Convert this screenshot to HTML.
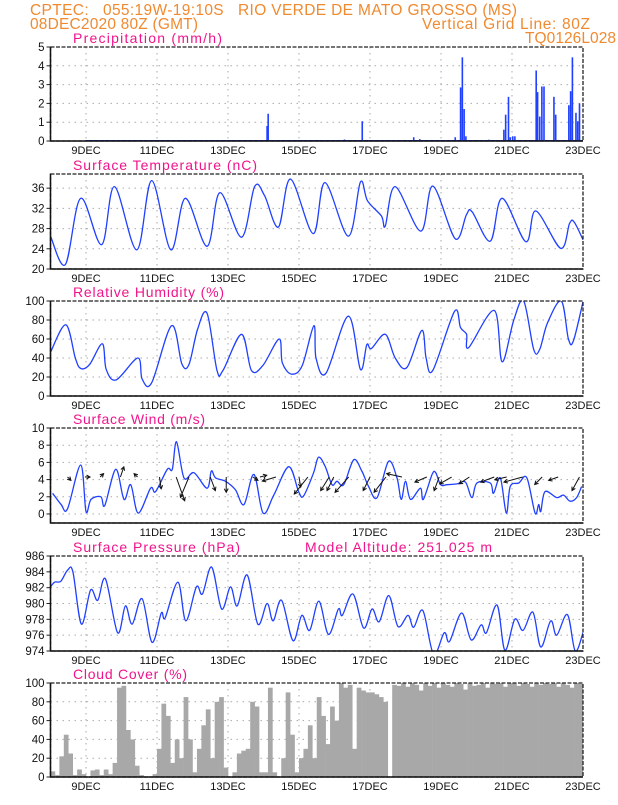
<!DOCTYPE html>
<html><head><meta charset="utf-8"><style>
html,body{margin:0;padding:0;background:#fff;}
svg text{font-family:"Liberation Sans",sans-serif;}
</style></head><body>
<svg id="chart" width="618" height="800" viewBox="0 0 618 800" xmlns="http://www.w3.org/2000/svg">
<text x="30" y="15" font-size="15.5" fill="#f08a30" textLength="487" lengthAdjust="spacing" xml:space="preserve">CPTEC:   055:19W-19:10S   RIO VERDE DE MATO GROSSO (MS)</text>
<text x="30" y="29" font-size="15.5" fill="#f08a30" textLength="168" lengthAdjust="spacing">08DEC2020 80Z (GMT)</text>
<text x="422" y="29" font-size="15.5" fill="#f08a30" textLength="168" lengthAdjust="spacing">Vertical Grid Line: 80Z</text>
<text x="525" y="43" font-size="15.5" fill="#f08a30" textLength="91" lengthAdjust="spacing">TQ0126L028</text>
<g id="plots"></g>
</svg>
<script>
// ---- data (days since 08DEC 00Z) ----
const dayLabels = ["9DEC","11DEC","13DEC","15DEC","17DEC","19DEC","21DEC","23DEC"];
const dayLabelPos = [1,3,5,7,9,11,13,15];
const precipDays = [6.1,6.13,8.28,8.78,10.23,10.4,11.4,11.55,11.6,11.65,11.7,12.35,12.77,12.82,12.9,12.95,13.02,13.08,13.68,13.72,13.78,13.84,13.9,14.18,14.23,14.6,14.65,14.7,14.8,14.85,14.9];
const precipVals = [0.8,1.45,0.08,1.05,0.2,0.1,0.2,2.85,4.45,1.7,0.25,0.07,0.6,1.4,2.35,0.2,0.25,0.25,3.75,2.6,1.3,2.9,2.9,2.35,1.4,1.9,2.65,4.45,1.5,1.05,2.0];
const tempDays = [0,0.42,0.85,1.44,1.8,2.43,2.85,3.39,3.8,4.41,4.77,5.38,5.75,6.03,6.42,6.76,7.4,7.73,8.39,8.73,8.93,9.32,9.43,9.71,10.43,10.77,11.4,11.72,11.88,12.39,12.72,13.39,13.67,14.37,14.62,14.75,15];
const tempVals = [26.5,20.9,34,24.8,36.3,23.8,37.5,23.8,34,24.5,35.1,26.3,36.3,34.5,28.3,37.8,27,37.1,26.5,37.2,33.5,30.5,28.5,36.3,27.5,36.4,26,30.8,31.3,25.5,34,25.4,31.5,24.1,29,29.3,25.8];
const rhDays = [0,0.43,0.7,0.85,1.1,1.46,1.57,1.85,2.46,2.58,2.85,3.41,3.7,3.9,4.14,4.41,4.69,4.86,5.38,5.66,5.98,6.44,6.53,6.79,7.09,7.42,7.48,7.76,8.39,8.73,8.91,9.04,9.43,9.71,10.04,10.46,10.58,10.77,11.38,11.55,11.72,11.78,12.5,12.72,13.05,13.33,13.61,13.78,14.0,14.39,14.59,14.73,15];
const rhVals = [46,75,40,29,33,55,28,17,40,18,14,74,34,33,70,87,27,27,65,27,32,60,35,23,32,74,40,24,84,28,54,50,65,40,30,69,40,27,89,72,65,51,90,36,80,100,49,49,77,100,60,58,99];
const windDays = [0.06,0.3,0.48,0.85,1.0,1.14,1.42,1.53,1.84,2.07,2.26,2.47,2.82,2.96,3.29,3.43,3.55,3.76,4.04,4.41,4.53,4.65,4.93,5.21,5.45,5.73,5.99,6.29,6.71,6.99,7.13,7.41,7.55,7.74,7.93,8.07,8.26,8.54,8.77,8.96,9.2,9.52,9.76,9.88,10.0,10.14,10.42,10.5,10.75,10.85,10.99,11.17,11.45,11.69,11.87,12.01,12.39,12.48,12.67,12.84,12.95,13.19,13.42,13.65,13.75,13.81,13.93,14.26,14.45,14.63,14.82,14.96];
const windVals = [2.4,1.1,0.6,5.7,0.3,1.7,2.0,1.0,5.2,1.7,3.4,0.1,3.0,2.6,5.2,5.2,8.4,4.2,4.8,3.0,5.0,4.2,3.8,2.8,1.1,4.6,0.1,2.2,5.5,2.6,2.1,4.8,6.6,5.5,3.4,3.8,3.4,6.3,5.0,3.2,1.9,6.1,4.2,1.7,3.8,1.7,3.0,1.7,4.6,4.8,3.4,3.4,3.5,3.7,1.9,3.6,3.6,2.4,4.2,0.1,3.2,3.6,4.2,0.1,1.1,0.3,2.6,1.9,2.2,1.5,1.9,3.2];
const arrowDays = [0.48,0.97,1.4,1.97,2.45,3.07,3.54,3.9,4.5,4.95,5.7,5.9,6.35,7.0,7.25,7.85,7.98,8.4,9.0,9.45,9.9,10.6,10.95,11.3,11.8,12.5,12.85,13.3,13.85,14.3,14.9];
const arrowU = [1,1.5,1,1,-1,0.5,2.5,-2.5,1.5,0,1.5,2,-4,0.5,-4,-2.5,-2,-4,-2,-3.5,-4.5,-3.5,-1.5,-3.5,-3,-4,-3.5,-5.5,-2.2,-2.8,-2.2];
const arrowV = [-1,0,1,3,1,-3.5,-7,-6,-4,-4.5,-1,0.5,-1.2,-3,-5,-4,-4,-4.5,-4,-4.5,1,-1.5,-4,-2,-2,-1.5,-0.8,-1.5,-2.2,-1,-4];
const presDays = [0,0.12,0.29,0.48,0.63,0.87,1.13,1.33,1.55,1.89,2.11,2.3,2.58,2.86,3.12,3.23,3.59,3.81,4.11,4.28,4.54,4.82,5.07,5.26,5.54,5.84,6.1,6.27,6.51,6.83,7.08,7.3,7.56,7.83,8.11,8.22,8.52,8.82,9.06,9.26,9.53,9.79,10.07,10.23,10.49,10.79,11.09,11.24,11.58,11.85,12.13,12.28,12.58,12.8,13.08,13.31,13.59,13.81,14.09,14.26,14.56,14.78,15];
const presVals = [982.1,982.7,982.8,984.2,984,977.4,981.7,980.4,983.1,976.3,979.7,977.4,980.6,975.1,978.8,978.2,982.7,977.8,982.1,981.2,984.6,979.3,982.1,979.7,983.6,977.4,980,977.8,980.4,975.3,978.5,976.6,980.3,976.1,979.3,978.5,981.2,976.9,979.3,977.7,981,977.1,978.5,977,979.1,973.6,976.3,975.2,978.8,975.4,977.3,976.3,979.8,974.1,978,976.6,978.9,974.5,977.8,976,978.6,974,976.3];
const cloudVals = [
 6,2,22,45,25,2,8,3,
 0,7,8,2,8,3,15,95,
 97,50,40,12,2,0,0,3,
 30,78,65,15,40,20,85,40,
 5,30,55,72,20,80,85,10,
 0,5,25,28,30,80,75,5,
 5,95,5,0,20,90,45,5,
 20,30,55,20,85,65,35,75,
 60,100,95,98,30,95,92,90,
 90,88,85,80,0,98,97,100,
 96,100,98,92,100,97,100,95,
 100,98,96,100,99,93,100,97,
 98,100,95,100,99,100,96,100,
 100,97,100,99,96,100,98,100,
 99,100,96,100,98,95,100,99];

// ---- layout ----
const X0=50.5, X1=583;
const xs = d => X0 + (X1-X0)*d/15;
const NS="http://www.w3.org/2000/svg";
const root=document.getElementById('plots');
function el(tag, attrs, parent){const e=document.createElementNS(NS,tag);for(const k in attrs)e.setAttribute(k,attrs[k]);(parent||root).appendChild(e);return e;}

function panel(name,title,titleLen,top,bot,lo,hi,ticks,extraTitle){
  const g=el('g',{});
  
  
  const ys=v=>bot-(v-lo)/(hi-lo)*(bot-top);
  ticks.forEach(t=>{
    const y=ys(t);
    if(y>top+1&&y<bot-1){const gl=el('line',{x1:X0,x2:X1,y1:y,y2:y,stroke:'#aaa','stroke-width':1,'stroke-dasharray':'1.5,4.5'},g);
      
      }
    const tk=el('line',{x1:X0-4,x2:X0,y1:y,y2:y,stroke:'#222','stroke-width':1},g);
    
    
    const tl=el('text',{x:X0-6,y:y+4,'font-size':11.5,'text-anchor':'end',fill:'#111'},g);
    tl.textContent=t;
    
    
  });
  dayLabelPos.forEach((d,i)=>{
    const x=xs(d);
    if(d<15){const vl=el('line',{x1:x,x2:x,y1:top,y2:bot,stroke:'#aaa','stroke-width':1,'stroke-dasharray':'1.5,4.5'},g);
      
      }
    const t=el('text',{x:x,y:bot+13,'font-size':11,'text-anchor':'middle',fill:'#111'},g);
    t.textContent=dayLabels[i];
    
    
  });
  const tt=el('text',{x:73,y:top-4,'font-size':14,fill:'#f0148c',textLength:titleLen,lengthAdjust:'spacing'},g);
  tt.textContent=title;
  
  
  if(extraTitle){const et=el('text',{x:305,y:top-4,'font-size':14,fill:'#f0148c',textLength:187,lengthAdjust:'spacing'},g);
    et.textContent=extraTitle;
    
    }
  const plot=el('g',{},g);
  const cid='clip-'+name;
  const cp=el('clipPath',{id:cid},g);el('rect',{x:X0,y:top,width:X1-X0,height:bot-top},cp);
  plot.setAttribute('clip-path','url(#'+cid+')');
  return {g,plot,ys,top,bot,border:()=>{
    const b=el('rect',{x:X0,y:top,width:X1-X0,height:bot-top,fill:'none',stroke:'#222','stroke-width':1.3,'stroke-dasharray':'4,1.5'},g);
    
    
    const l=el('path',{d:`M${X0},${top}V${bot}H${X1}`,fill:'none',stroke:'#111','stroke-width':1.5},g);
    
    
  }};
}
function line(p,days,vals,name){
  const P=days.map((t,i)=>[xs(t),p.ys(vals[i])]);
  let d='M'+P[0][0].toFixed(1)+','+P[0][1].toFixed(1);
  for(let i=0;i<P.length-1;i++){
    const p0=P[Math.max(0,i-1)],p1=P[i],p2=P[i+1],p3=P[Math.min(P.length-1,i+2)];
    const c1=[p1[0]+(p2[0]-p0[0])/6,p1[1]+(p2[1]-p0[1])/6];
    const c2=[p2[0]-(p3[0]-p1[0])/6,p2[1]-(p3[1]-p1[1])/6];
    d+='C'+c1.map(v=>v.toFixed(1)).join(',')+' '+c2.map(v=>v.toFixed(1)).join(',')+' '+p2[0].toFixed(1)+','+p2[1].toFixed(1);
  }
  const l=el('path',{d:d,fill:'none',stroke:'#2040ff','stroke-width':1.3,'stroke-linejoin':'round'},p.plot);
  
  
}

// precipitation
const pp=panel('precipitation','Precipitation (mm/h)',149,47,141,0,5,[0,1,2,3,4,5]);
const base=el('line',{x1:xs(1),x2:X1,y1:140.5,y2:140.5,stroke:'#2040ff','stroke-width':1},pp.plot);


precipDays.forEach((d,i)=>{
  const y=pp.ys(precipVals[i]);
  const r=el('rect',{x:xs(d)-0.75,y:y,width:1.6,height:pp.bot-y,fill:'#2040ff'},pp.plot);
  
  
});
pp.border();

// temperature
const tp=panel('temperature','Surface Temperature (nC)',184,174,269,20,38.8,[20,24,28,32,36]);
line(tp,tempDays,tempVals,'temperature-line');tp.border();

// humidity
const hp=panel('humidity','Relative Humidity (%)',151,301,396,0,100,[0,20,40,60,80,100]);
line(hp,rhDays,rhVals,'humidity-line');hp.border();

// wind
const wp=panel('wind','Surface Wind (m/s)',132,428,523,-1.05,10,[0,2,4,6,8,10]);
line(wp,windDays,windVals,'wind-speed-line');
arrowDays.forEach((d,i)=>{
  const x0=xs(d), y0=wp.ys(4.3);
  const x1=x0+arrowU[i]*3.4, y1=y0-arrowV[i]*3.4;
  const ang=Math.atan2(y1-y0,x1-x0);
  const h=4;
  const dd=`M${x0},${y0}L${x1},${y1}M${x1-h*Math.cos(ang-0.5)},${y1-h*Math.sin(ang-0.5)}L${x1},${y1}L${x1-h*Math.cos(ang+0.5)},${y1-h*Math.sin(ang+0.5)}`;
  const a=el('path',{d:dd,fill:'none',stroke:'#111','stroke-width':1},wp.plot);
  
  
});
wp.border();

// pressure
const prp=panel('pressure','Surface Pressure (hPa)',167,556,651,974,986,[974,976,978,980,982,984,986],'Model Altitude: 251.025 m');
line(prp,presDays,presVals,'pressure-line');prp.border();

// cloud
const cp=panel('cloud','Cloud Cover (%)',114,683,777,0,100,[0,20,40,60,80,100]);
const step=15/cloudVals.length;
cloudVals.forEach((v,i)=>{
  const y=cp.ys(v);
  const r=el('rect',{x:xs(i*step),y:y,width:xs(step)-xs(0)+0.3,height:cp.bot-y,fill:'#a8a8a8'},cp.plot);
  
  
});
cp.border();
</script>
</body></html>
